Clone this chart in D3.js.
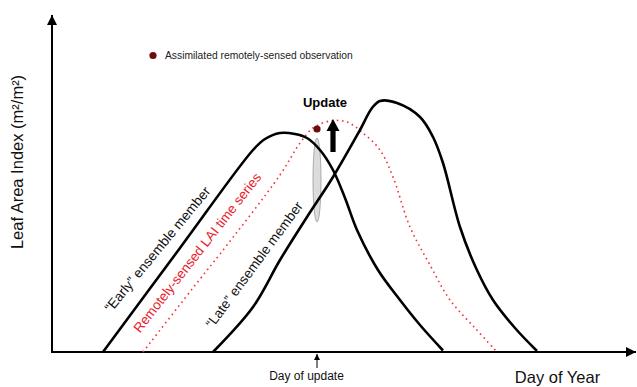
<!DOCTYPE html>
<html><head><meta charset="utf-8">
<script src="https://cdn.jsdelivr.net/npm/d3@7"></script>
<style>body{margin:0;background:#fff}svg{display:block}text{font-family:"Liberation Sans",Arial,sans-serif}</style>
</head><body>
<script>
// Data (day of year, LAI m2/m2)
const earlyDays = [25.5, 64, 100.5, 106.5, 114, 121.5, 127.5, 134, 140.5, 146.5, 152.5, 163, 174, 184, 195.5];
const earlyLAI  = [0, 2.08, 4.04, 4.26, 4.38, 4.36, 4.28, 4.04, 3.64, 3.08, 2.44, 1.64, 1.04, 0.54, 0.03];
const lateDays  = [80.5, 100.5, 114, 127.5, 140.5, 154, 160, 164, 172.5, 184, 190.5, 195.5, 204, 212, 220.5, 231.5, 242.5];
const lateLAI   = [0, 0.9, 1.84, 2.7, 3.5, 4.44, 4.88, 5.02, 4.98, 4.7, 4.3, 3.78, 2.5, 1.68, 1.04, 0.48, 0.02];
const rsDays    = [45.5, 74, 84, 114, 124, 130.5, 139, 147.5, 155.5, 164, 170.5, 179, 189, 199, 211.5, 222.5];
const rsLAI     = [0, 1.46, 1.96, 3.54, 4.18, 4.48, 4.62, 4.6, 4.38, 4.04, 3.5, 2.5, 1.74, 1.04, 0.48, 0];
const obsDay = 132.5, obsLAI = 4.46;
const updateDay = 132.5;
const ellipseLAI = 3.44, ellipseHalf = 0.84;
const updateArrowDay = 140.5, updateArrowFrom = 4.0, updateArrowTo = 4.66;

const W = 637, H = 387;
const x = d3.scaleLinear().domain([0, 292.5]).range([52, 637]);
const y = d3.scaleLinear().domain([0, 6.76]).range([352, 14]);

const svg = d3.select("body").append("svg").attr("width", W).attr("height", H);
const defs = svg.append("defs");
defs.append("marker").attr("id","ah").attr("viewBox","0 0 10 10").attr("refX",10).attr("refY",5)
  .attr("markerWidth",5).attr("markerHeight",5).attr("markerUnits","strokeWidth").attr("orient","auto")
  .append("path").attr("d","M0,0 L10,5 L0,10 z").attr("fill","#000");
defs.append("marker").attr("id","ahs").attr("viewBox","0 0 10 10").attr("refX",10).attr("refY",5)
  .attr("markerWidth",6).attr("markerHeight",7).attr("markerUnits","strokeWidth").attr("orient","auto")
  .append("path").attr("d","M0,0 L10,5 L0,10 z").attr("fill","#000");

const line = d3.line().x(d => x(d[0])).y(d => y(d[1])).curve(d3.curveCatmullRom.alpha(0.5));
const zip = (a, b) => a.map((v, i) => [v, b[i]]);

// axes
svg.append("line").attr("x1", x(0)).attr("y1", y(0)).attr("x2", x(0)).attr("y2", y(6.76)+1)
  .attr("stroke","#000").attr("stroke-width",2).attr("marker-end","url(#ah)");
svg.append("line").attr("x1", x(0)-1).attr("y1", y(0)).attr("x2", 636).attr("y2", y(0))
  .attr("stroke","#000").attr("stroke-width",2).attr("marker-end","url(#ah)");

// ellipse (ensemble spread)
svg.append("ellipse").attr("cx", x(updateDay)).attr("cy", y(ellipseLAI))
  .attr("rx", 4).attr("ry", y(0) - y(ellipseHalf))
  .attr("fill","#dcdcdc").attr("stroke","#999").attr("stroke-width",0.8);

// red dotted remotely-sensed series
svg.append("path").attr("d", line(zip(rsDays, rsLAI))).attr("fill","none")
  .attr("stroke","#f2333a").attr("stroke-width",1.6).attr("stroke-dasharray","1.6 3.6");

// ensemble members
svg.append("path").attr("d", line(zip(earlyDays, earlyLAI))).attr("fill","none")
  .attr("stroke","#000").attr("stroke-width",2.6).attr("stroke-linejoin","round");
svg.append("path").attr("d", line(zip(lateDays, lateLAI))).attr("fill","none")
  .attr("stroke","#000").attr("stroke-width",2.6).attr("stroke-linejoin","round");

// observation
svg.append("circle").attr("cx", x(obsDay)).attr("cy", y(obsLAI)).attr("r", 3.6).attr("fill","#6e0c0c");

// update arrow (block arrow)
{
  const ax = x(updateArrowDay), y0 = y(updateArrowFrom), y1 = y(updateArrowTo);
  const headH = 12, sw = 2.6, hw = 6.5;
  svg.append("path")
    .attr("d", `M${ax-sw},${y0} L${ax-sw},${y1+headH} L${ax-hw},${y1+headH} L${ax},${y1} L${ax+hw},${y1+headH} L${ax+sw},${y1+headH} L${ax+sw},${y0} Z`)
    .attr("fill","#000");
}
svg.append("text").attr("x", 325).attr("y", 107).attr("text-anchor","middle")
  .attr("font-size",13).attr("font-weight","bold").text("Update");

// legend
svg.append("circle").attr("cx",153).attr("cy",55.5).attr("r",3.6).attr("fill","#6e0c0c");
svg.append("text").attr("x",165).attr("y",59).attr("font-size",10.3).attr("fill","#222")
  .text("Assimilated remotely-sensed observation");

// day of update
svg.append("line").attr("x1", x(updateDay)).attr("y1", 368).attr("x2", x(updateDay)).attr("y2", 354)
  .attr("stroke","#000").attr("stroke-width",1).attr("marker-end","url(#ahs)");
svg.append("text").attr("x", 306.5).attr("y", 379.5).attr("text-anchor","middle")
  .attr("font-size",12).attr("fill","#111").text("Day of update");

// axis labels
svg.append("text").attr("x",557.5).attr("y",383).attr("text-anchor","middle")
  .attr("font-size",16.5).attr("fill","#111").text("Day of Year");
svg.append("text").attr("transform","translate(23,162) rotate(-90)").attr("text-anchor","middle")
  .attr("font-size",16.5).attr("fill","#111").text("Leaf Area Index (m²/m²)");

// curve labels
svg.append("text").attr("transform","translate(111,313) rotate(-50.5)")
  .attr("font-size",13.7).attr("fill","#111").text("\u201CEarly\u201D ensemble member");
svg.append("text").attr("transform","translate(140,333.5) rotate(-52)")
  .attr("font-size",13.5).attr("fill","#e8202a").text("Remotely-sensed  LAI time series");
svg.append("text").attr("transform","translate(212.5,329) rotate(-53.5)")
  .attr("font-size",13.7).attr("fill","#111").text("\u201CLate\u201D ensemble member");
</script>
</body></html>
